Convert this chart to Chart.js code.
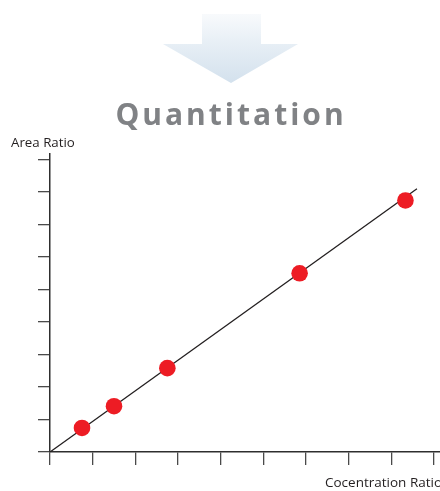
<!DOCTYPE html>
<html>
<head>
<meta charset="utf-8">
<script src="https://cdn.jsdelivr.net/npm/chart.js@4/dist/chart.umd.min.js"></script>
<style>
  html, body { margin: 0; padding: 0; background: #ffffff; }
  #wrap { position: relative; width: 440px; height: 491px; overflow: hidden; }
  #chart { position: absolute; left: 0; top: 0; }
  .lbl { position: absolute; white-space: nowrap; font-family: "Open Sans", "Noto Sans", sans-serif; }
  #title { left: 0; width: 440px; text-align: center; top: 93px; font-size: 30px; font-weight: 700;
           letter-spacing: 3px; color: #808285; padding-left: 22px; box-sizing: border-box; }
  #ylab { left: 11px; top: 133px; font-size: 13.3px; color: #231f20; }
  #xlab { left: 325px; top: 473px; font-size: 13.5px; color: #231f20; }
</style>
</head>
<body>
<div id="wrap">
  <canvas id="chart" width="440" height="491"></canvas>
  <div class="lbl" id="title">Quantitation</div>
  <div class="lbl" id="ylab">Area Ratio</div>
  <div class="lbl" id="xlab">Cocentration Ratio</div>
</div>
<script>
// Calibration samples: concentration ratio vs. measured area ratio
const concentrationRatio = [0.75, 1.5, 2.75, 5.85, 8.33];
const areaRatio = [0.74, 1.41, 2.58, 5.5, 7.74];

// Fitted calibration line (start and end of the drawn segment)
const fitX = [0, 8.6];
const fitY = [0, 8.1];

// Unlabelled tick positions on both axes
const xTicks = [0, 1, 2, 3, 4, 5, 6, 7, 8, 9];
const yTicks = [0, 1, 2, 3, 4, 5, 6, 7, 8, 9];

// Soft down-pointing arrow above the heading
const arrowPlugin = {
  id: 'arrow',
  beforeDraw(chart) {
    const ctx = chart.ctx;
    ctx.save();
    const g = ctx.createLinearGradient(0, 14, 0, 83);
    g.addColorStop(0, '#f8fafc');
    g.addColorStop(0.45, '#e6eef5');
    g.addColorStop(1, '#d3e1ed');
    ctx.fillStyle = g;
    ctx.beginPath();
    ctx.moveTo(202, 14);
    ctx.lineTo(261, 14);
    ctx.lineTo(261, 44);
    ctx.lineTo(298, 44);
    ctx.lineTo(231, 83);
    ctx.lineTo(163, 44);
    ctx.lineTo(202, 44);
    ctx.closePath();
    ctx.fill();
    ctx.restore();
  }
};

const axisCommon = {
  type: 'linear',
  min: 0,
  ticks: { display: false },
  grid: { drawOnChartArea: false, drawTicks: true, color: '#4a4a4a', lineWidth: 1.3 },
  border: { display: true, color: '#2e2e2e', width: 1.5 }
};

new Chart(document.getElementById('chart'), {
  data: {
    datasets: [
      {
        type: 'scatter',
        label: 'Samples',
        data: concentrationRatio.map((x, i) => ({ x: x, y: areaRatio[i] })),
        backgroundColor: '#ed1c24',
        borderWidth: 0,
        pointRadius: 8.3,
        pointHoverRadius: 8.3
      },
      {
        type: 'line',
        label: 'Fit',
        data: fitX.map((x, i) => ({ x: x, y: fitY[i] })),
        borderColor: '#231f20',
        borderWidth: 1.3,
        pointRadius: 0,
        fill: false,
        tension: 0
      }
    ]
  },
  options: {
    responsive: false,
    animation: false,
    events: [],
    layout: { autoPadding: false, padding: { top: 154, right: 0, left: 0, bottom: 0 } },
    plugins: { legend: { display: false }, tooltip: { enabled: false }, title: { display: false } },
    scales: {
      x: Object.assign({}, axisCommon, {
        position: 'bottom',
        max: 9.14,
        grid: Object.assign({}, axisCommon.grid, { tickLength: 13 }),
        afterBuildTicks(s) { s.ticks = xTicks.map(v => ({ value: v })); },
        afterFit(s) { s.height = 39; }
      }),
      y: Object.assign({}, axisCommon, {
        position: 'left',
        max: 9.17,
        grid: Object.assign({}, axisCommon.grid, { tickLength: 12 }),
        afterBuildTicks(s) { s.ticks = yTicks.map(v => ({ value: v })); },
        afterFit(s) { s.width = 50; }
      })
    }
  },
  plugins: [arrowPlugin]
});
</script>
</body>
</html>
